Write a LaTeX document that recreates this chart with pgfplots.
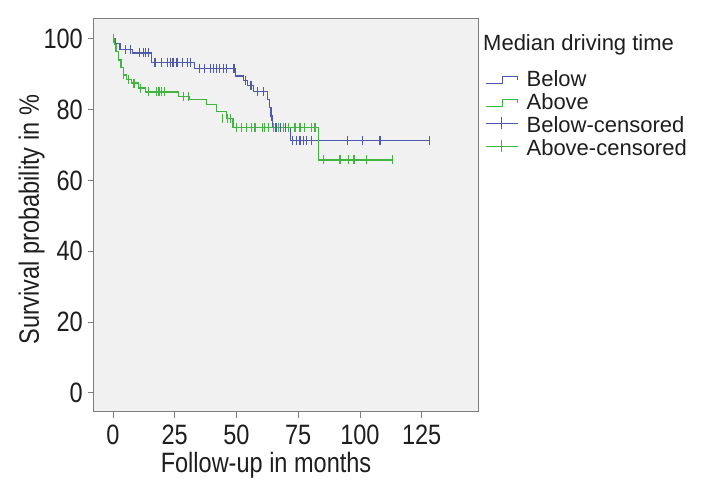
\documentclass[border=0pt]{standalone}
\usepackage{pgfplots}
\pgfplotsset{compat=1.18}
\usepackage{fontspec}
\setmainfont{Liberation Sans}
\newfontfamily\condfont[FakeStretch=0.84]{Liberation Sans}
\newcommand\axfont{\condfont\fontsize{28}{30}\selectfont}
\newcommand\legfont{\rmfamily\fontsize{22}{24}\selectfont}
\definecolor{bluec}{RGB}{78,90,172}
\definecolor{greenc}{RGB}{66,180,66}
\definecolor{bgc}{RGB}{240,241,240}
\definecolor{axc}{RGB}{125,125,125}
\definecolor{txt}{RGB}{30,30,30}
\pgfplotsset{
  steplegend/.style={legend image code/.code={\draw[##1] (0pt,3.4pt) -- (16.7pt,3.4pt) -- (16.7pt,10pt) -- (31.7pt,10pt) -- (31.7pt,6.7pt);}},
  censlegend/.style={legend image code/.code={\draw[##1] (0pt,9pt) -- (31.7pt,9pt); \draw[##1] (16pt,3.4pt) -- (16pt,15pt);}},
}
\begin{document}
\begin{tikzpicture}
\path[use as bounding box] (0,0) rectangle (702pt,502pt);
\begin{axis}[
  name=ax,
  at={(94pt,90pt)}, anchor=south west,
  scale only axis, width=384pt, height=393pt,
  xmin=-7.7, xmax=147.8, ymin=-5.4, ymax=105.6,
  xtick={0,25,50,75,100,125}, ytick={0,20,40,60,80,100},
  xtick pos=bottom, ytick pos=left,
  axis background/.style={fill=bgc},
  axis line style={draw=axc, line width=1pt},
  tick align=outside, major tick length=6pt,
  tick style={draw=axc, line width=0.8pt},
  ticklabel style={font=\axfont, text=txt, inner sep=0pt},
  /pgf/number format/assume math mode=true,
  yticklabel style={anchor=east, xshift=-5pt},
  xticklabel style={anchor=north, yshift=-7pt},
  xlabel={Follow-up in months},
  ylabel={Survival probability in \%},
  xlabel style={font=\axfont, text=txt, at={([yshift=-61pt]axis description cs:0.448,0)}, anchor=base, inner sep=0pt},
  ylabel style={font=\axfont, text=txt, at={([xshift=-55pt]axis description cs:0,0.489)}, anchor=base, inner sep=0pt},
  legend style={at={(1,1)}, anchor=north west, xshift=7pt, yshift=-51.7pt,
    draw=none, fill=none, font=\legfont, inner sep=0pt, row sep=0pt, column sep=8.5pt,
    nodes={inner sep=0pt, anchor=base west, text height=16pt, text depth=6.8pt, text=txt}},
  legend cell align=left,
]
\addlegendimage{bluec, line width=1.2pt, steplegend}
\addlegendimage{greenc, line width=1.2pt, steplegend}
\addlegendimage{bluec, line width=1.2pt, censlegend}
\addlegendimage{greenc, line width=1.2pt, censlegend}
\legend{Below, Above, Below-censored, Above-censored}

\addplot[const plot, bluec, line width=1.2pt, forget plot] coordinates {
(0,100) (0.8,98.6) (2.8,96.9) (8,96.0) (15.7,93.4) (33,91.6) (49.6,89.5) (53,88.2)
(54.5,86.8) (57,85.1) (62.6,82.9) (63.4,80.6) (64,78.2) (64.6,75.0) (71.8,71.3) (128.3,71.3)};
\addplot[only marks, mark=|, mark size=4.5pt, bluec, mark options={line width=1.1pt}, forget plot] coordinates {
(4.9,96.9) (6.9,96.9) (10.9,96.0) (12.3,96.0) (13,96.0) (14.3,96.0)
(17,93.4) (19.8,93.4) (21.9,93.4) (23.1,93.4) (24.3,93.4) (25.9,93.4) (28.3,93.4) (30,93.4) (31.2,93.4)
(35.2,91.6) (37.2,91.6) (39.3,91.6) (40.6,91.6) (42,91.6) (43.3,91.6) (44.7,91.6) (46,91.6) (49,91.6)
(53.6,88.2) (55.5,86.8) (56.2,86.8) (58.5,85.1) (61,85.1) (64.2,78.2)
(66,75.0) (68,75.0) (70,75.0)
(72.6,71.3) (74.4,71.3) (75.7,71.3) (77,71.3) (78.4,71.3) (80.4,71.3) (94.9,71.3) (101.1,71.3) (108.1,71.3) (128.3,71.3)};

\addplot[const plot, greenc, line width=1.2pt, forget plot] coordinates {
(0,100) (0.6,98.3) (1.2,96.4) (2.3,94.0) (3.2,91.8) (4.2,89.8) (5.5,88.4) (7.6,87.5)
(10.2,86.1) (13,85.0) (26.4,83.7) (31,82.8) (37.8,81.4) (42,79.5) (46,77.6) (48.6,75.0)
(83.2,65.8) (113.4,65.8)};
\addplot[only marks, mark=|, mark size=4.5pt, greenc, mark options={line width=1.1pt}, forget plot] coordinates {
(0.3,100) (4.2,89.8) (6.2,88.4) (8.5,87.5) (11,86.1)
(14.3,85.0) (17.7,85.0) (18.3,85.0) (19,85.0) (19.7,85.0) (21,85.0)
(28.5,83.7) (30.5,83.7)
(44.5,77.6) (46.5,77.6) (47.5,77.6)
(50,75.0) (52,75.0) (54,75.0) (56,75.0) (57.5,75.0) (60.6,75.0) (61.5,75.0) (62.9,75.0)
(64.9,75.0) (66.9,75.0) (69,75.0) (71,75.0) (73.7,75.0) (75.7,75.0) (77.7,75.0) (80.4,75.0) (81.8,75.0)
(85.1,65.8) (91.9,65.8) (95.3,65.8) (97.6,65.8) (102.7,65.8) (113.2,65.8)};
\end{axis}
\node[anchor=base west, font=\legfont, text=txt, inner sep=0pt] at ([xshift=5pt,yshift=-31.7pt]ax.north east) {Median driving time};
\end{tikzpicture}
\end{document}
